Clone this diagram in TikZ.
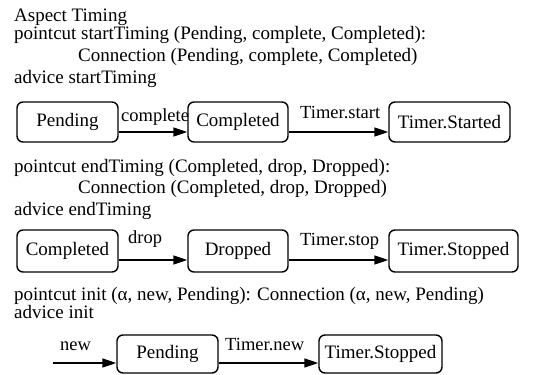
\documentclass[tikz,border=0pt]{standalone}
\usepackage{fontspec}
\setmainfont{Liberation Serif}
\usetikzlibrary{arrows.meta}
\tikzset{
  txt/.style={anchor=base west, inner sep=0pt, font=\fontsize{19}{20}\selectfont},
  lbl/.style={anchor=base west, inner sep=0pt, font=\fontsize{18.5}{20}\selectfont},
  state/.style={draw, line width=1.4pt, rounded corners=6pt, inner sep=0pt,
    font=\fontsize{19}{20}\selectfont, minimum height=#1},
  conn/.style={line width=1.4pt, -{Triangle[length=14pt,width=9pt]}},
}
\begin{document}
\begin{tikzpicture}[x=1pt,y=-1pt]
\useasboundingbox (0,0) rectangle (547,375);
% block 1
\node[txt] (t1) at (14,21) {Aspect Timing};
\node[txt] (t2) at (14,39.5) {pointcut startTiming (Pending, complete, Completed):};
\node[txt] (t3) at (78,61) {Connection (Pending, complete, Completed)};
\node[txt] (t4) at (14,83) {advice startTiming};
\node[state=40pt, minimum width=101pt] (a1) at (67.5,122) {Pending};
\node[state=40pt, minimum width=100pt] (a2) at (238,122) {Completed};
\node[state=40pt, minimum width=121pt] (a3) at (449.5,122) {Timer.Started};
\draw[conn] ([yshift=-10pt]a1.east) -- ([yshift=-10pt]a2.west);
\draw[conn] ([yshift=-10pt]a2.east) -- ([yshift=-10pt]a3.west);
\node[lbl] (l1) at (121,121) {complete};
\node[lbl] (l2) at (300,118) {Timer.start};
% block 2
\node[txt] (u1) at (14,172) {pointcut endTiming (Completed, drop, Dropped):};
\node[txt] (u2) at (78,193.5) {Connection (Completed, drop, Dropped)};
\node[txt] (u3) at (14,215) {advice endTiming};
\node[state=42pt, minimum width=101pt] (b1) at (67.5,251) {Completed};
\node[state=42pt, minimum width=100pt] (b2) at (238,251) {Dropped};
\node[state=42pt, minimum width=129pt] (b3) at (453.5,251) {Timer.Stopped};
\draw[conn] ([yshift=-9pt]b1.east) -- ([yshift=-9pt]b2.west);
\draw[conn] ([yshift=-9pt]b2.east) -- ([yshift=-9pt]b3.west);
\node[lbl] (m1) at (128,243) {drop};
\node[lbl] (m2) at (300,245) {Timer.stop};
% block 3
\node[txt] (v1) at (14,300) {pointcut init (α, new, Pending): Connection (α, new, Pending)};
\node[txt] (v2) at (14,318.5) {advice init};
\node[state=38pt, minimum width=101pt] (c1) at (167.5,354) {Pending};
\node[state=38pt, minimum width=123pt] (c2) at (380.5,354) {Timer.Stopped};
\coordinate (s) at (53,363);
\draw[conn] (s) -- ([yshift=-9pt]c1.west);
\draw[conn] ([yshift=-9pt]c1.east) -- ([yshift=-9pt]c2.west);
\node[lbl] (n1) at (60,350) {new};
\node[lbl] (n2) at (225,350) {Timer.new};
\end{tikzpicture}
\end{document}
